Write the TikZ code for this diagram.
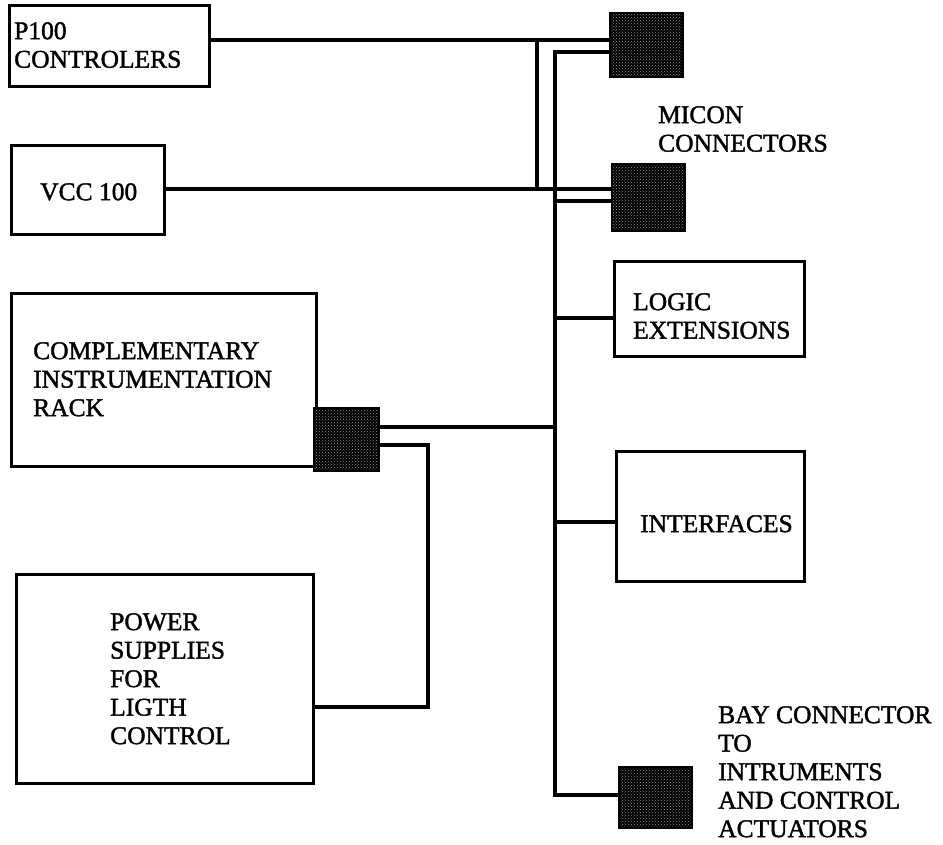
\documentclass[tikz,border=0pt]{standalone}
\usepackage{fontspec}
\setmainfont{Liberation Serif}
\newfontfamily\scanfont{Liberation Serif}[FakeBold=1.5]
\usetikzlibrary{patterns}
\begin{document}
\begin{tikzpicture}[x=1pt,y=-1pt,
  box/.style={draw, line width=2.8pt, anchor=north west, inner sep=0pt},
  conn/.style={draw, line width=2.2pt, anchor=north west, inner sep=0pt,
    preaction={fill=black}, pattern=crosshatch dots, pattern color=black!45},
  wire/.style={line width=3.2pt, line join=miter},
  lbl/.style={anchor=north west, inner sep=0pt, align=left,
    font=\scanfont\fontsize{25.5}{28.5}\selectfont}]
\useasboundingbox (0,0) rectangle (943,844);

% boxes
\node[box, minimum width=200, minimum height=81] (p100) at (8,4) {};
\node[box, minimum width=153, minimum height=89] (vcc) at (10,144) {};
\node[box, minimum width=305, minimum height=173] (rack) at (10,292) {};
\node[box, minimum width=297, minimum height=209] (power) at (15,573) {};
\node[box, minimum width=190, minimum height=95] (logic) at (613,260) {};
\node[box, minimum width=188, minimum height=130] (intf) at (615,450) {};

% connectors
\node[conn, minimum width=73, minimum height=64] (c1) at (609,12) {};
\node[conn, minimum width=73, minimum height=67] (c2) at (611,163) {};
\node[conn, minimum width=65, minimum height=63] (c3) at (313,407) {};
\node[conn, minimum width=73, minimum height=61] (c4) at (618,766) {};

% labels
\node[lbl] (tp100) at (14,22) {P100\\CONTROLERS};
\node[lbl] (tvcc) at (40,183) {VCC 100};
\node[lbl] (tmicon) at (658,106) {MICON\\CONNECTORS};
\node[lbl] (tlogic) at (633,293) {LOGIC\\EXTENSIONS};
\node[lbl] (track) at (33,342) {COMPLEMENTARY\\INSTRUMENTATION\\RACK};
\node[lbl] (tintf) at (640,515) {INTERFACES};
\node[lbl] (tpower) at (110,613) {POWER\\SUPPLIES\\FOR\\LIGTH\\CONTROL};
\node[lbl] (tbay) at (718,706) {BAY CONNECTOR\\TO\\INTRUMENTS\\AND CONTROL\\ACTUATORS};

% junction coordinates
\coordinate (j1) at (537,40);
\coordinate (j2) at (537,189);
\coordinate (b0) at (555,52);
\coordinate (b1) at (555,201);
\coordinate (b2) at (555,318);
\coordinate (b3) at (555,427);
\coordinate (b4) at (555,522);
\coordinate (b5) at (555,795);
\coordinate (r1) at (428,445);
\coordinate (r2) at (428,707);

% wires
\draw[wire] (p100.east |- j1) -- (c1.west |- j1);
\draw[wire] (j1) -- (j2);
\draw[wire] (vcc.east |- j2) -- (c2.west |- j2);
\draw[wire] (c1.west |- b0) -- (b0) -- (b5) -- (c4.west |- b5);
\draw[wire] (b1) -- (c2.west |- b1);
\draw[wire] (b2) -- (logic.west |- b2);
\draw[wire] (c3.east |- b3) -- (b3);
\draw[wire] (b4) -- (intf.west |- b4);
\draw[wire] (c3.east |- r1) -- (r1) -- (r2) -- (power.east |- r2);
\end{tikzpicture}
\end{document}
